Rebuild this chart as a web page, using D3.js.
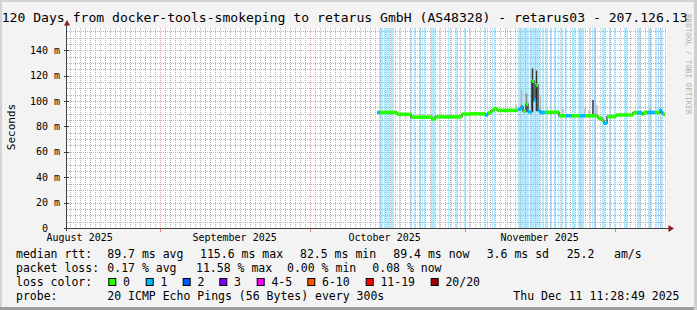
<!DOCTYPE html>
<html><head><meta charset="utf-8">
<script src="https://cdn.jsdelivr.net/npm/d3@7"></script>
<style>
html,body{margin:0;padding:0;background:#f3f3f3;}
svg{display:block;}
text{font-family:"DejaVu Sans Mono",monospace;white-space:pre;}
</style>
</head><body><svg id="c" width="697" height="310"></svg>
<script>
// ---------------- data ----------------
const startTime = new Date(2025, 7, 13, 11, 28, 49);
const endTime   = new Date(2025, 11, 11, 11, 28, 49);
const yTicks = [0, 20, 40, 60, 80, 100, 120, 140];
const yMax = 157.5;

// median rtt step segments (start day offset from startTime, median ms, loss class)
const segStart  = [62.0, 62.6, 66.0, 68.8, 73.0, 73.6, 79.0, 80.6, 83.6, 84.2, 84.8, 85.4, 86.0, 90.2, 90.8, 91.2, 91.8, 92.2, 93.0, 93.4, 93.8, 94.2, 94.6, 95.6, 98.4, 99.8, 101.0, 102.6, 103.6, 106.2, 107.0, 107.4, 108.0, 109.8, 113.2, 114.0, 115.0, 115.4, 116.0, 117.6, 118.6, 118.8, 119.2];
const segMedian = [91.0, 91.0, 89.5, 87.3, 85.8, 87.5, 89.7, 89.9, 89.0, 90.6, 92.4, 93.8, 92.6, 93.5, 95.5, 92.0, 97.5, 91.5, 115.6, 100.5, 112.5, 92.5, 91.0, 91.2, 88.4, 88.4, 88.4, 88.4, 88.4, 86.5, 84.8, 82.5, 87.7, 89.0, 90.8, 90.8, 89.5, 91.0, 91.0, 91.0, 93.0, 91.3, 89.4];
const segLoss   = [1, 0, 0, 0, 0, 0, 0, 0, 1, 0, 0, 0, 0, 1, 1, 0, 0, 1, 0, 1, 0, 1, 1, 0, 0, 1, 0, 1, 0, 0, 0, 1, 0, 0, 0, 1, 0, 0, 1, 0, 1, 1, 0];
const dataEnd = 119.6;

// smoke (ping spread) spikes
const smokeDay   = [89.8, 90.9, 91.9, 93.1, 93.9, 94.7, 99.2, 103.6, 104.4, 105.2, 106.0, 116.6];
const smokeLo    = [92.6, 93.0, 92.0, 91.5, 92.0, 91.0, 88.4, 88.4, 88.4, 88.4, 88.4, 91.0];
const smokeHi    = [97.0, 108.5, 106.0, 125.7, 124.0, 104.0, 94.0, 94.7, 92.9, 100.8, 96.9, 94.7];
const smokeShade = [0, 0, 1, 2, 2, 0, 0, 0, 0, 2, 0, 0];

// packet loss background bars
const lossStart = [62.4, 62.8, 63.3, 63.8, 64.1, 64.4, 64.7, 65.0, 66.3, 68.6, 69.3, 70.4, 70.9, 71.3, 72.8, 73.2, 74.3, 76.1, 76.7, 77.8, 79.4, 80.3, 83.3, 83.9, 84.9, 85.3, 87.9, 90.1, 92.6, 95.0, 95.8, 96.6, 97.4, 98.1, 98.8, 99.6, 100.9, 102.1, 104.3, 104.9, 105.4, 107.0, 108.4, 109.3, 111.3, 111.8, 113.9, 116.1, 117.7, 118.1, 118.6];
const lossEnd   = [62.7, 63.1, 63.6, 64.1, 64.3, 64.6, 65.0, 65.3, 66.6, 68.9, 69.6, 70.7, 71.2, 71.6, 73.1, 73.5, 74.6, 76.4, 77.0, 78.1, 79.7, 80.6, 83.6, 84.2, 85.2, 85.6, 88.2, 92.3, 94.5, 95.3, 96.1, 96.9, 97.7, 98.4, 99.1, 99.9, 101.6, 103.4, 104.6, 105.2, 105.7, 107.5, 108.7, 109.6, 111.6, 112.1, 114.7, 116.9, 118.0, 118.4, 119.1];
const lossLevel = [1,1,1,1,1,1,1,1,1,1,1,1,1,1,1,1,1,1,1,1,1,1,1,1,1,1,1,1,1,1,1,1,1,1,1,1,1,1,1,1,2,1,1,1,1,1,1,1,1,2,1];

const lossLabels = ["0", "1", "2", "3", "4-5", "6-10", "11-19", "20/20"];
const lossColors = ["#26ff00", "#00b8ff", "#0059ff", "#7e00ff", "#ff00ff", "#ff5500", "#ff0000", "#a10000"];
const lossBg     = ["#ffffff", "#b3eaff", "#b3cdff"];
const smokeColors = ["#b8b8b8", "#888888", "#383838"];

const titleText = "120 Days from docker-tools-smokeping to retarus GmbH (AS48328) - retarus03 - 207.126.13";
const legendRtt  = ["median rtt:", "89.7 ms avg", "115.6 ms max", "82.5 ms min", "89.4 ms now", "3.6 ms sd", "25.2", "am/s"];
const legendLoss = ["packet loss:", "0.17 % avg", "11.58 % max", "0.00 % min", "0.08 % now"];
const probeText = ["probe:", "20 ICMP Echo Pings (56 Bytes) every 300s", "Thu Dec 11 11:28:49 2025"];

// ---------------- drawing ----------------
const svg = d3.select("#c");
const W = 697, H = 310;
const L = 67, R = 667, T = 28, B = 228;
const dayToDate = d => new Date(+startTime + d * 864e5);
const x = d3.scaleTime().domain([startTime, endTime]).range([L, R]);
const y = d3.scaleLinear().domain([0, yMax]).range([B, T]);

// background and frame
svg.append("rect").attr("width", W).attr("height", H).attr("fill", "#f3f3f3");
svg.append("rect").attr("x", 0).attr("y", 0).attr("width", W).attr("height", 2).attr("fill", "#d4d4d4");
svg.append("rect").attr("x", 0).attr("y", 0).attr("width", 2).attr("height", H).attr("fill", "#d4d4d4");
svg.append("rect").attr("x", 0).attr("y", H - 3).attr("width", W).attr("height", 3).attr("fill", "#9c9c9c");
svg.append("rect").attr("x", W - 3).attr("y", 0).attr("width", 3).attr("height", H).attr("fill", "#cfcfcf");

// canvas
svg.append("rect").attr("x", L).attr("y", T).attr("width", R - L).attr("height", B - T).attr("fill", "#ffffff");

// loss background
svg.append("g").attr("shape-rendering", "crispEdges").selectAll("rect")
  .data(lossStart.map((s, i) => ({s, e: lossEnd[i], l: lossLevel[i]})))
  .join("rect")
  .attr("x", d => x(dayToDate(d.s)))
  .attr("width", d => Math.max(1, x(dayToDate(d.e)) - x(dayToDate(d.s))))
  .attr("y", T).attr("height", B - T)
  .attr("fill", d => lossBg[d.l]);

// grid
const grid = svg.append("g").attr("shape-rendering", "crispEdges");
const minorCol = "#b4b4b4", majorCol = "#f0a0a0";
const minorDays = d3.timeDay.range(d3.timeDay.ceil(startTime), endTime);
grid.selectAll(".vmin").data(minorDays).join("line")
  .attr("x1", d => Math.round(x(d)) + 0.5).attr("x2", d => Math.round(x(d)) + 0.5)
  .attr("y1", T).attr("y2", B)
  .attr("stroke", minorCol).attr("stroke-dasharray", "1,1");
const minorVals = d3.range(5, yMax, 5).filter(v => v % 20 !== 0);
grid.selectAll(".hmin").data(minorVals).join("line")
  .attr("x1", L).attr("x2", R)
  .attr("y1", d => Math.round(y(d)) + 0.5).attr("y2", d => Math.round(y(d)) + 0.5)
  .attr("stroke", minorCol).attr("stroke-dasharray", "1,1");
grid.selectAll(".hmaj").data(yTicks.filter(v => v > 0)).join("line")
  .attr("x1", L).attr("x2", R)
  .attr("y1", d => Math.round(y(d)) + 0.5).attr("y2", d => Math.round(y(d)) + 0.5)
  .attr("stroke", majorCol).attr("stroke-dasharray", "1,1");
const months = d3.timeMonth.range(d3.timeMonth.ceil(startTime), endTime);
grid.selectAll(".vmaj").data(months).join("line")
  .attr("x1", d => Math.round(x(d)) + 0.5).attr("x2", d => Math.round(x(d)) + 0.5)
  .attr("y1", T).attr("y2", B)
  .attr("stroke", majorCol).attr("stroke-dasharray", "1,1");

// smoke
svg.append("g").selectAll("line")
  .data(smokeDay.map((d, i) => ({d, lo: smokeLo[i], hi: smokeHi[i], s: smokeShade[i]})))
  .join("line")
  .attr("x1", d => x(dayToDate(d.d))).attr("x2", d => x(dayToDate(d.d)))
  .attr("y1", d => y(d.lo)).attr("y2", d => y(d.hi))
  .attr("stroke", d => smokeColors[d.s]).attr("stroke-width", 1.5);

// thin dark median line
const segs = segStart.map((s, i) => ({s, e: i < segStart.length - 1 ? segStart[i + 1] : dataEnd, v: segMedian[i], l: segLoss[i]}));
const pts = [];
segs.forEach(d => { pts.push([d.s, d.v]); pts.push([d.e, d.v]); });
svg.append("path")
  .attr("d", d3.line().x(p => x(dayToDate(p[0]))).y(p => y(p[1]))(pts))
  .attr("fill", "none").attr("stroke", "#202020").attr("stroke-width", 1.2);

// colored median band by loss
const sw = 1.4;
svg.append("g").selectAll("rect").data(segs).join("rect")
  .attr("x", d => x(dayToDate(d.s)))
  .attr("width", d => x(dayToDate(d.e)) - x(dayToDate(d.s)))
  .attr("y", d => y(d.v + sw))
  .attr("height", d => y(d.v - sw) - y(d.v + sw))
  .attr("fill", d => lossColors[d.l]);

// axes
const axisCol = "#404040";
svg.append("line").attr("x1", L - 0.5).attr("x2", L - 0.5).attr("y1", B + 3).attr("y2", 24)
  .attr("stroke", axisCol).attr("stroke-width", 1);
svg.append("line").attr("x1", L - 3).attr("x2", 670).attr("y1", B + 0.5).attr("y2", B + 0.5)
  .attr("stroke", axisCol).attr("stroke-width", 1);
svg.append("path").attr("d", "M64,25.5L70,25.5L67,20Z").attr("fill", "#8b1a1a");
svg.append("path").attr("d", "M668.5,225L668.5,232L674,228.5Z").attr("fill", "#8b1a1a");

// y ticks and labels
const ty = svg.append("g");
ty.selectAll("line").data(yTicks).join("line")
  .attr("x1", L - 3).attr("x2", L + 2)
  .attr("y1", d => Math.round(y(d)) + 0.5).attr("y2", d => Math.round(y(d)) + 0.5)
  .attr("stroke", axisCol).attr("shape-rendering", "crispEdges");
ty.selectAll(".num").data(yTicks).join("text")
  .attr("x", 48).attr("y", d => y(d) + 3.5)
  .attr("text-anchor", "end").attr("font-size", "10px").attr("fill", "#000")
  .text(d => d3.format("d")(d));
ty.selectAll(".unit").data(yTicks.filter(v => v > 0)).join("text")
  .attr("x", 54).attr("y", d => y(d) + 3.5)
  .attr("font-size", "10px").attr("fill", "#000")
  .text("m");

// x ticks and month labels
svg.append("g").selectAll("line").data(months).join("line")
  .attr("x1", d => Math.round(x(d)) + 0.5).attr("x2", d => Math.round(x(d)) + 0.5)
  .attr("y1", B + 1).attr("y2", B + 4)
  .attr("stroke", "#e87f7f").attr("shape-rendering", "crispEdges");
const labelMonths = d3.timeMonth.range(d3.timeMonth.floor(startTime), endTime)
  .map(m => d3.timeDay.offset(m, 15))
  .filter(d => d >= startTime && d <= endTime);
svg.append("g").selectAll("text").data(labelMonths).join("text")
  .attr("x", d => x(d)).attr("y", 241)
  .attr("text-anchor", "middle").attr("font-size", "10px").attr("fill", "#000")
  .text(d => d3.timeFormat("%B %Y")(d));

// y label
svg.append("text").attr("transform", "translate(15,127) rotate(-90)")
  .attr("text-anchor", "middle").attr("font-size", "11px").attr("fill", "#000").text("Seconds");

// title
svg.append("text").attr("x", 1.7).attr("y", 22).attr("font-size", "13.1px").attr("fill", "#000").text(titleText);

// watermark
svg.append("text").attr("transform", "translate(685.5,14) rotate(90)")
  .attr("font-size", "7.6px").attr("fill", "#b0b0b0").text("RRDTOOL / TOBI OETIKER");

// legend
const lf = "11.5px";
const rttX = [16, 107.3, 200, 300, 393.3, 486.7, 566.7, 614];
svg.append("g").selectAll("text").data(legendRtt).join("text")
  .attr("x", (d, i) => rttX[i]).attr("y", 258).attr("font-size", lf).attr("fill", "#000").text(d => d);
const lossX = [16, 107.3, 196, 287, 372.3];
svg.append("g").selectAll("text").data(legendLoss).join("text")
  .attr("x", (d, i) => lossX[i]).attr("y", 272).attr("font-size", lf).attr("fill", "#000").text(d => d);
svg.append("text").attr("x", 16).attr("y", 286).attr("font-size", lf).attr("fill", "#000").text("loss color:");
const boxX = [108.3, 145.7, 182.7, 219.3, 256.7, 307.3, 365.7, 430.7];
const lg = svg.append("g");
lg.selectAll("rect").data(lossColors).join("rect")
  .attr("x", (d, i) => boxX[i] + 0.5).attr("y", 278.5).attr("width", 7).attr("height", 7)
  .attr("fill", d => d).attr("stroke", "#000").attr("stroke-width", 1);
lg.selectAll("text").data(lossLabels).join("text")
  .attr("x", (d, i) => boxX[i] + 14.7).attr("y", 286).attr("font-size", lf).attr("fill", "#000").text(d => d);
const probeX = [16, 107.3, 513.3];
svg.append("g").selectAll("text").data(probeText).join("text")
  .attr("x", (d, i) => probeX[i]).attr("y", 299.5).attr("font-size", lf).attr("fill", "#000").text(d => d);
</script>
</body></html>
